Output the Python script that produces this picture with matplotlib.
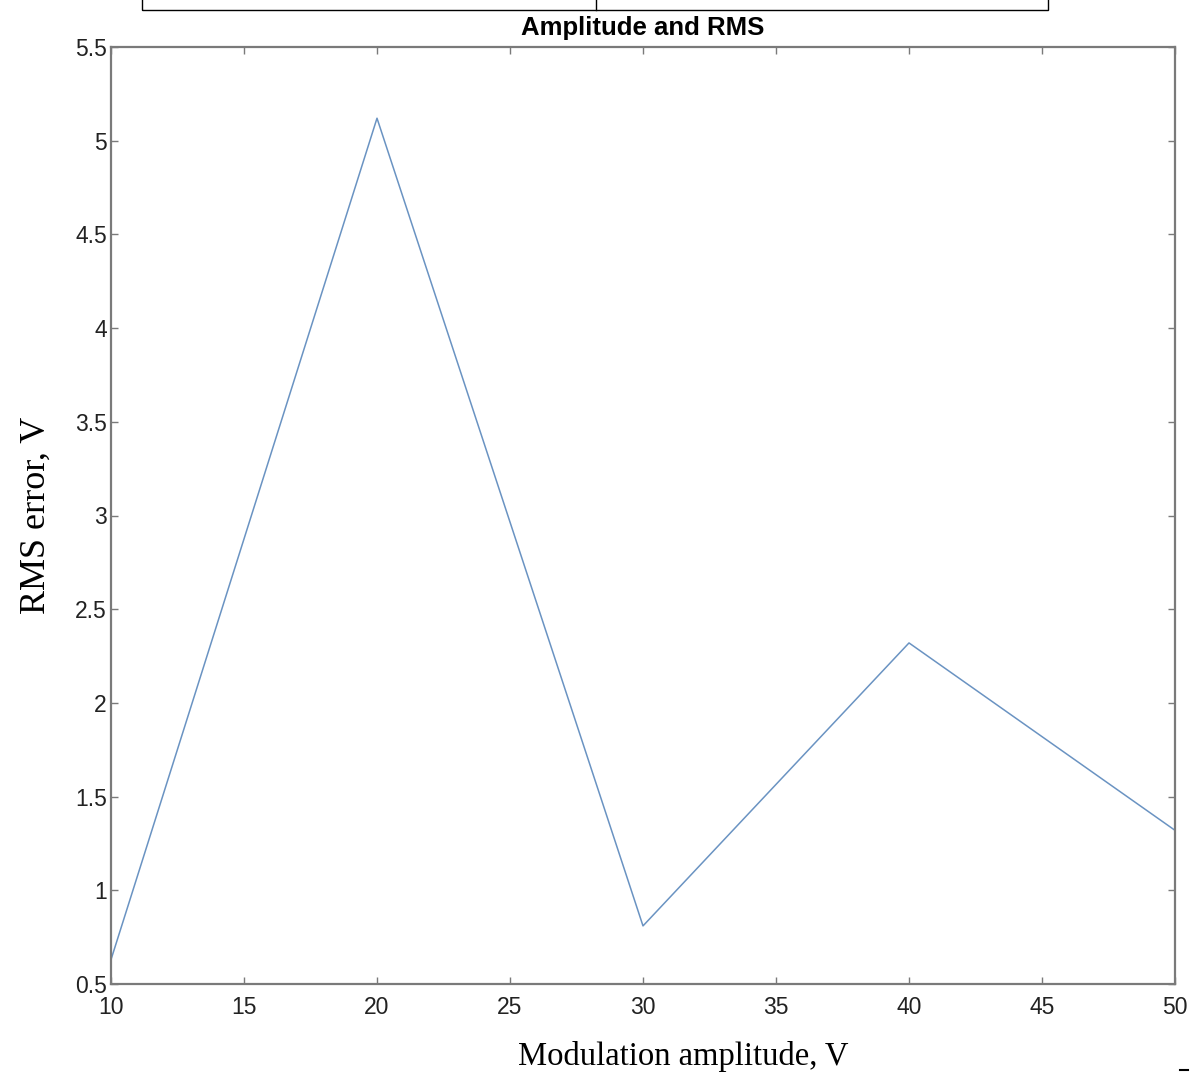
import matplotlib
matplotlib.use("Agg")
import matplotlib.pyplot as plt
from matplotlib.patches import Rectangle
from matplotlib.lines import Line2D

amplitude = [10, 20, 30, 40, 50]
rms_error = [0.63, 5.12, 0.81, 2.32, 1.32]
xticks = [10, 15, 20, 25, 30, 35, 40, 45, 50]
yticks = [0.5, 1, 1.5, 2, 2.5, 3, 3.5, 4, 4.5, 5, 5.5]
ytick_labels = ["0.5", "1", "1.5", "2", "2.5", "3", "3.5", "4", "4.5", "5", "5.5"]

W, H = 1193, 1077
fig = plt.figure(figsize=(W / 100, H / 100), dpi=100)
ax = fig.add_axes([111 / W, 1 - 984 / H, (1175 - 111) / W, (984 - 47) / H])

ax.plot(amplitude, rms_error, color="#6a93c2", lw=1.1)
ax.set_xlim(10, 50)
ax.set_ylim(0.5, 5.5)
ax.set_xticks(xticks)
ax.set_yticks(yticks)
ax.set_yticklabels(ytick_labels)

grey = "#7a7a7a"
for s in ax.spines.values():
    s.set_color(grey)
    s.set_linewidth(1.6)
ax.tick_params(direction="in", length=5, width=1, color=grey,
               top=True, right=True, labelsize=16.5, labelcolor="#222222")
ax.tick_params(axis="x", pad=9)
ax.tick_params(axis="y", pad=3)
for lab in ax.get_xticklabels() + ax.get_yticklabels():
    lab.set_family("Liberation Sans")

ax.set_title("Amplitude and RMS", fontsize=18.5, fontweight="bold",
             family="Liberation Sans", pad=9)
ax.set_xlabel("Modulation amplitude, V", fontsize=23.5, family="Liberation Serif")
ax.xaxis.set_label_coords((683 - 111) / 1064, -(1056 - 984) / 937)
ax.xaxis.label.set_va("center")
ax.set_ylabel("RMS error, V", fontsize=26, family="Liberation Serif", labelpad=16)

# top box artifact
fig.patches.append(Rectangle((142 / W, 1 - 10 / H), (1048 - 142) / W, 12 / H,
                             transform=fig.transFigure, fill=False, ec="black", lw=1.0))
fig.lines.append(Line2D([596 / W, 596 / W], [1 - 10 / H, 1.0], transform=fig.transFigure,
                        color="black", lw=1.0))
fig.lines.append(Line2D([1180 / W, 1188 / W], [1 - 1070 / H, 1 - 1070 / H],
                        transform=fig.transFigure, color="black", lw=1.5))

fig.savefig("out.png", dpi=100, facecolor="white")
